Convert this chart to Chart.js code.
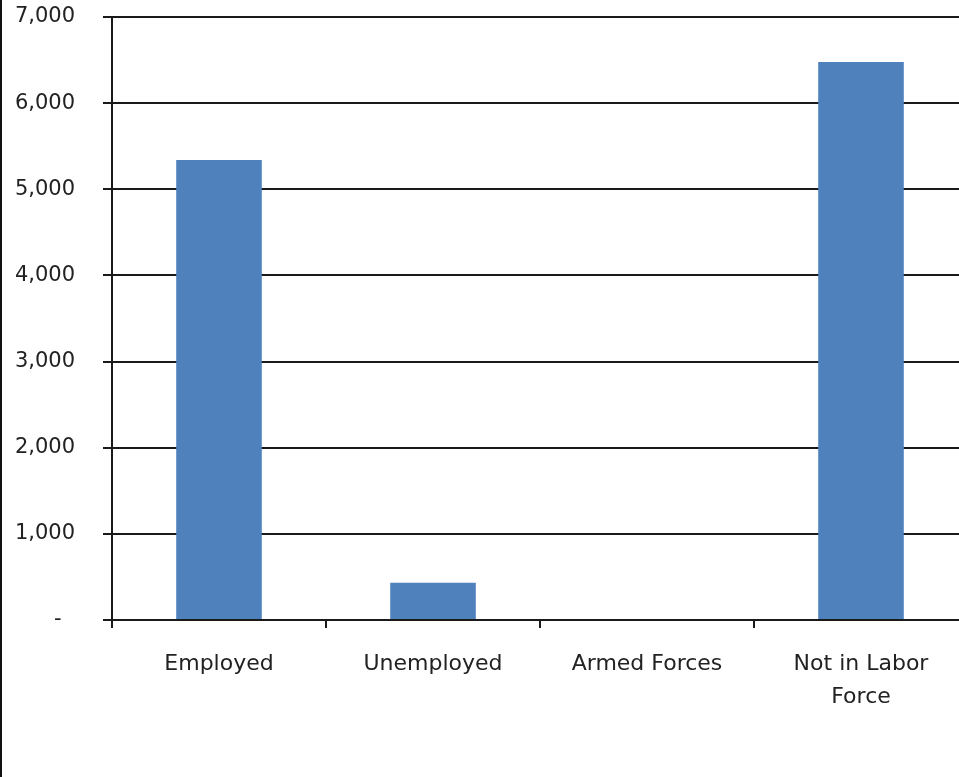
<!DOCTYPE html>
<html>
<head>
<meta charset="utf-8">
<script src="https://cdn.jsdelivr.net/npm/chart.js@4"></script>
<style>
  html, body { margin: 0; padding: 0; overflow: hidden; background: #fff; }
  #frame { position: absolute; left: 0; top: 0; width: 968px; height: 777px; border-left: 2px solid #111; }
  #laborChart { position: absolute; left: -2px; top: 0; }
</style>
</head>
<body>
<div id="frame">
  <canvas id="laborChart" width="968" height="777"></canvas>
</div>
<script>
// Labor force status counts

const categories = ['Employed', 'Unemployed', 'Armed Forces', ['Not in Labor', 'Force']];
const counts = [5340, 433, 0, 6477];
const yTicks = [0, 1000, 2000, 3000, 4000, 5000, 6000, 7000];

const fontFamily = '"DejaVu Sans", Verdana, sans-serif';

new Chart(document.getElementById('laborChart'), {
    type: 'bar',
    data: {
        labels: categories,
        datasets: [{
            data: counts,
            backgroundColor: '#4F81BD',
            borderWidth: 0,
            categoryPercentage: 1,
            barPercentage: 0.4
        }]
    },
    options: {
        responsive: false,
        animation: false,
        layout: { padding: { top: 17, right: 0, bottom: 0, left: 0 } },
        scales: {
            x: {
                grid: { drawOnChartArea: false, color: '#1a1a1a', lineWidth: 2, tickLength: 8 },
                border: { color: '#1a1a1a', width: 2 },
                ticks: { color: '#222', padding: 20, font: { family: fontFamily, size: 22, lineHeight: 1.5 } },
                afterFit: scale => { scale.height = 157; }
            },
            y: {
                min: 0,
                max: 7000,
                afterBuildTicks: scale => { scale.ticks = yTicks.map(v => ({ value: v })); },
                grid: { color: '#1a1a1a', lineWidth: 2, tickLength: 9 },
                border: { color: '#1a1a1a', width: 2 },
                ticks: {
                    color: '#222',
                    padding: 28,
                    font: { family: fontFamily, size: 21 },
                    callback: v => v === 0 ? '-  ' : v.toLocaleString('en-US')
                },
                afterFit: scale => {
                    // keep the label gap from pushing the plot down
                    scale.width = 112;
                    scale.paddingTop = 0;
                    scale.paddingBottom = 0;
                }
            }
        },
        plugins: {
            legend: { display: false },
            tooltip: { enabled: false }
        }
    }
});
</script>
</body>
</html>
